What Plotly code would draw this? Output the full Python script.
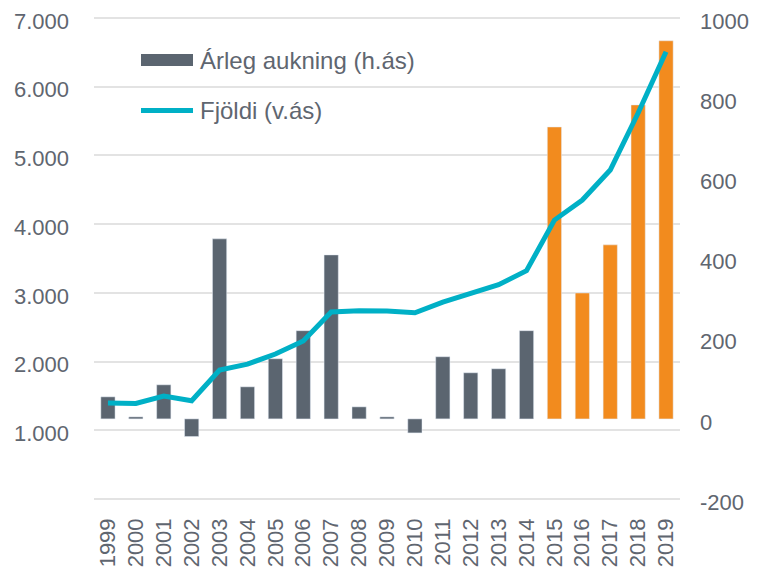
import plotly.graph_objects as go

years = [str(y) for y in range(1999, 2020)]
arleg_aukning = [55, 5, 85, -44, 449, 80, 150, 220, 409, 30, 5, -35,
                 155, 115, 125, 220, 728, 314, 434, 783, 943]
fjoldi = [1397, 1392, 1499, 1430, 1877, 1964, 2110, 2299, 2721, 2740, 2735, 2711,
          2866, 2993, 3118, 3322, 4059, 4350, 4787, 5616, 6508]
bar_colors = ["#5b6570"] * 16 + ["#f28b1e"] * 5

left_tickvals = [0, 1000, 2000, 3000, 4000, 5000, 6000, 7000]
left_ticktext = ["", "1.000", "2.000", "3.000", "4.000", "5.000", "6.000", "7.000"]
right_tickvals = [-200, 0, 200, 400, 600, 800, 1000]
right_ticktext = ["-200", "0", "200", "400", "600", "800", "1000"]

legend_names = ["Árleg aukning (h.ás)", "Fjöldi (v.ás)"]

TXT = "#5f6670"
FONT = "Liberation Sans, Arial, sans-serif"

# page has an 8px body margin; axis ends in page px: y 18..499, plot x 94..680
OFF = 8
W, H = 757 - OFF, 568 - OFF
PAD = 0.004
PL, PR = 94, 680
PT, PB = 16, 501  # padded plot area so the end gridlines are kept

L_RANGE = [0 - 7000 * PAD, 7000 + 7000 * PAD]
R_RANGE = [-200 - 1200 * PAD, 1000 + 1200 * PAD]


def px(x):
    return (x - PL) / (PR - PL)


def py(y):
    return (PB - y) / (PB - PT)


fig = go.Figure()
fig.add_trace(go.Bar(x=years, y=arleg_aukning, marker_color=bar_colors,
                     width=0.51, yaxis="y", name=legend_names[0], showlegend=False))
fig.add_trace(go.Scatter(x=years, y=fjoldi, mode="lines", yaxis="y2",
                         line=dict(color="#00b0c6", width=5), name=legend_names[1],
                         showlegend=False))

# custom legend
fig.add_shape(type="rect", xref="paper", yref="paper",
              x0=px(141), x1=px(193), y0=py(66), y1=py(54),
              fillcolor="#5b6570", line_width=0)
fig.add_shape(type="line", xref="paper", yref="paper",
              x0=px(141), x1=px(193), y0=py(110.5), y1=py(110.5),
              line=dict(color="#00b0c6", width=5))
for name, yy in zip(legend_names, [60, 110.5]):
    fig.add_annotation(text=name, xref="paper", yref="paper",
                       x=px(198), y=py(yy),
                       xanchor="left", yanchor="middle", showarrow=False,
                       font=dict(size=24, color=TXT, family=FONT))

fig.update_layout(
    width=W, height=H,
    margin=dict(l=PL - OFF, r=W - (PR - OFF), t=PT - OFF, b=H - (PB - OFF)),
    paper_bgcolor="white", plot_bgcolor="white",
    font=dict(family=FONT, size=22, color=TXT),
    showlegend=False,
    xaxis=dict(type="category", tickmode="array", tickvals=years, tickangle=-90,
               showgrid=False, zeroline=False, showline=False, ticks="",
               tickfont=dict(size=22, color=TXT), automargin=False,
               ticklabelstandoff=12, ticklabeloverflow="allow"),
    yaxis=dict(side="right", range=R_RANGE, tickvals=right_tickvals,
               ticktext=right_ticktext,
               showgrid=False, zeroline=False, showline=False, ticks="",
               tickfont=dict(size=22, color=TXT), automargin=False,
               ticklabelstandoff=19, ticklabelshift=3, ticklabeloverflow="allow"),
    yaxis2=dict(side="left", overlaying="y", range=L_RANGE,
                tickvals=left_tickvals, ticktext=left_ticktext,
                showgrid=True, gridcolor="#e3e3e3", gridwidth=2,
                zeroline=False, showline=False, ticks="",
                tickfont=dict(size=22, color=TXT), automargin=False,
                ticklabelstandoff=24, ticklabelshift=3, ticklabeloverflow="allow"),
)

fig.write_html("out.html")
